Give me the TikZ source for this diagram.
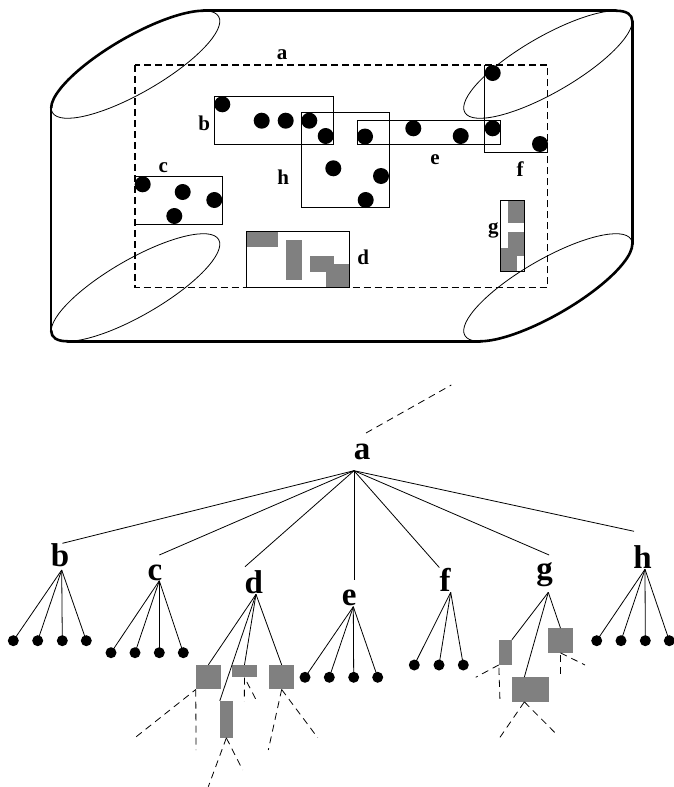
\documentclass[tikz,border=0pt]{standalone}
\usepackage{fontspec}
\setmainfont{Liberation Serif}
\usetikzlibrary{calc}
\definecolor{blockgray}{RGB}{128,128,128}
\begin{document}
\begin{tikzpicture}[x=1pt,y=-1pt,
  outer/.style={line width=2.6pt,line cap=round},
  thin ring/.style={line width=0.8pt},
  boxline/.style={line width=0.9pt},
  region/.style={line width=1.2pt,dash pattern=on 7pt off 4pt},
  blob/.style={circle,fill=black,inner sep=0pt,minimum size=16pt},
  leaf/.style={circle,fill=black,inner sep=0pt,minimum size=11pt},
  block/.style={fill=blockgray},
  cell/.style={rectangle,fill=blockgray,inner sep=0pt},
  toplabel/.style={inner sep=0pt,anchor=base,font=\fontsize{21}{21}\selectfont\bfseries},
  treelabel/.style={inner sep=0pt,anchor=base,font=\fontsize{33}{33}\selectfont\bfseries},
  edge/.style={line width=0.8pt},
  stub/.style={line width=0.8pt,dash pattern=on 7pt off 5pt}]
\useasboundingbox (0,0) rectangle (674,787);

% ---------- the space: four thin rings and the thick outline ----------
\foreach \cx/\cy in {135.5/64.5, 548/64.5, 135.5/287.5, 548/287.5}
  \draw[thin ring,shift={(\cx,\cy)},rotate=30] (0,0) ellipse[x radius=96pt,y radius=28pt];

\draw[outer,shift={(135.5,64.5)},rotate=30] (26.8:96pt and 28pt)
  arc[start angle=26.8,end angle=170.44,x radius=96pt,y radius=28pt];
\draw[outer,shift={(548,64.5)},rotate=30] (-9.56:96pt and 28pt)
  arc[start angle=-9.56,end angle=26.8,x radius=96pt,y radius=28pt];
\draw[outer,shift={(135.5,287.5)},rotate=30] (170.44:96pt and 28pt)
  arc[start angle=170.44,end angle=206.8,x radius=96pt,y radius=28pt];
\draw[outer,shift={(548,287.5)},rotate=30] (206.8:96pt and 28pt)
  arc[start angle=206.8,end angle=350.44,x radius=96pt,y radius=28pt];
\draw[outer] (203.39,10.72) -- (615.89,10.72);
\draw[outer] (632.31,21.19) -- (632.31,244.19);
\draw[outer] (480.11,341.28) -- (67.61,341.28);
\draw[outer] (51.19,330.81) -- (51.19,107.81);

% ---------- region a and its sub-regions ----------
\draw[region] (135,65) rectangle (547.7,287.3);

% gray blocks of d and g
\fill[block] (246,231.7) rectangle (277.7,247.3);
\fill[block] (285.7,240) rectangle (301.7,280);
\fill[block] (310,256) rectangle (334,271.7);
\fill[block] (326,264) rectangle (349.3,287.3);
\fill[block] (508.3,200) rectangle (524.3,223.3);
\fill[block] (508.3,231.7) rectangle (524.3,256);
\fill[block] (500.3,248.3) rectangle (516.7,271.7);

\draw[boxline] (214.3,96) rectangle (333.3,144);     % b
\draw[boxline] (301.7,112.7) rectangle (389,207.5);  % h
\draw[boxline] (357.3,120.7) rectangle (500.7,144);  % e
\draw[boxline] (547.7,152.3) -- (484.7,152.3) -- (484.7,65); % f
\draw[boxline] (135,176.7) -- (222.3,176.7) -- (222.3,224) -- (135,224); % c
\draw[boxline] (246,231.7) rectangle (349.3,287.3);  % d
\draw[boxline] (500.3,200) rectangle (524.3,271.7);  % g

% points
\foreach \px/\py [count=\i] in {222.3/104.3, 261.7/120.7, 285.7/120.7, 309.3/120.7, 325.7/136,
    333.3/168.3, 381/176, 365.7/200,
    365/136.5, 413.3/128.3, 460.7/136, 492.7/128.3,
    492.7/73, 540/144,
    142.7/184.3, 182.7/192, 214.3/200, 174.3/216}
  \node[blob] (p\i) at (\px,\py) {};

% labels of the regions
\node[toplabel] (la) at (282,59.3) {a};
\node[toplabel] (lb) at (204.3,130) {b};
\node[toplabel] (lc) at (163.3,172.7) {c};
\node[toplabel] (ld) at (363.3,264) {d};
\node[toplabel] (le) at (435,164) {e};
\node[toplabel] (lf) at (520,176.7) {f};
\node[toplabel] (lg) at (493.3,233.3) {g};
\node[toplabel] (lh) at (283.3,184.7) {h};

% ---------- the tree ----------
\node[treelabel] (ta) at (362,459.3) {a};
\node[treelabel] (tb) at (60,566.7) {b};
\node[treelabel] (tc) at (155,580.5) {c};
\node[treelabel] (td) at (253.8,593.3) {d};
\node[treelabel] (te) at (349.2,605) {e};
\node[treelabel] (tf) at (445,591.7) {f};
\node[treelabel] (tg) at (544.7,579.5) {g};
\node[treelabel] (th) at (642.5,568.3) {h};

% where the branches meet the labels
\coordinate (ra) at (354,470.7);
\coordinate (ib) at (62.4,543.3);
\coordinate (ic) at (159.3,555);
\coordinate (id) at (245,566.7);
\coordinate (ie) at (354,580);
\coordinate (if) at (439.3,567.5);
\coordinate (ig) at (549.1,555);
\coordinate (ih) at (634,531.3);
\coordinate (ob) at (61.7,570);
\coordinate (oc) at (159.3,580.7);
\coordinate (od) at (256,594.3);
\coordinate (oe) at (353.3,606.7);
\coordinate (of) at (450.7,592.3);
\coordinate (og) at (548.3,592.3);
\coordinate (oh) at (645,569.3);

% the parent of a, left open
\coordinate (up0) at (366,433);
\coordinate (up1) at (451.3,385);
\draw[stub] (up0) -- (up1);

\foreach \k in {b,c,d,e,f,g,h}
  \draw[edge] (ra) -- (i\k);

% leaves
\foreach \px [count=\i] in {13.3,37.7,62.3,86.3} {
  \draw[edge] (ob) -- (\px,640.7);
  \node[leaf] (lb\i) at (\px,640.7) {};}
\foreach \px [count=\i] in {111,135,159.3,183.3} {
  \draw[edge] (oc) -- (\px,652.7);
  \node[leaf] (lc\i) at (\px,652.7) {};}
\foreach \px [count=\i] in {305,329.3,353.7,377.7} {
  \draw[edge] (oe) -- (\px,677.3);
  \node[leaf] (le\i) at (\px,677.3) {};}
\foreach \px [count=\i] in {414.3,439,463.3} {
  \draw[edge] (of) -- (\px,665);
  \node[leaf] (lf\i) at (\px,665) {};}
\foreach \px [count=\i] in {596.7,621,645.3,669.3} {
  \draw[edge] (oh) -- (\px,640.7);
  \node[leaf] (lh\i) at (\px,640.7) {};}

% blocks under d
\node[cell,minimum width=24.7pt,minimum height=24.3pt] (d1) at (208.35,677.15) {};
\node[cell,minimum width=24.4pt,minimum height=12.3pt] (d2) at (244.5,671.15) {};
\node[cell,minimum width=24.7pt,minimum height=24.3pt] (d3) at (281.65,677.15) {};
\node[cell,minimum width=12.7pt,minimum height=36.7pt] (d4) at (226.35,719.35) {};
\draw[edge] (od) -- (d1.north);
\draw[edge] (od) -- (d2.north);
\draw[edge] (od) -- (d3.north);
\draw[edge] (od) -- (d4.north west);

% blocks under g
\node[cell,minimum width=12.7pt,minimum height=24.7pt] (g1) at (505.35,652.35) {};
\node[cell,minimum width=24.4pt,minimum height=24.4pt] (g2) at (560.5,640.5) {};
\node[cell,minimum width=36.7pt,minimum height=24.4pt] (g3) at (530.35,689.5) {};
\coordinate (g3in) at ($(g3.north)+(-6,0)$);
\coordinate (g3out) at ($(g3.south)+(-6,0)$);
\draw[edge] (og) -- (g1.north east);
\draw[edge] (og) -- (g2.north);
\draw[edge] (og) -- (g3in);

% open continuations below the blocks
\coordinate (s1) at (135,737.7);   \coordinate (s2) at (196,750);
\coordinate (s3) at (244.3,701.7); \coordinate (s4) at (255.7,699);
\coordinate (s5) at (268.3,750);   \coordinate (s6) at (317.7,737.7);
\coordinate (s7) at (208.3,786.7); \coordinate (s8) at (242.7,770);
\coordinate (s9) at (475.7,677.3); \coordinate (s10) at (500,701.7);
\coordinate (s11) at (585,665);    \coordinate (s12) at (560.5,675);
\coordinate (s13) at (500,737.3);  \coordinate (s14) at (555,732.7);
\draw[stub,dash phase=3pt] (d1.south west) -- (s1);
\draw[stub] (d1.south west) -- (s2);
\draw[stub] (d2.south) -- (s3);
\draw[stub,dash phase=7pt] (d2.south) -- (s4);
\draw[stub] (d3.south) -- (s5);
\draw[stub] (d3.south) -- (s6);
\draw[stub] (d4.south) -- (s7);
\draw[stub] (d4.south) -- (s8);
\draw[stub] (g1.south west) -- (s9);
\draw[stub,dash phase=9pt] (g1.south west) -- (s10);
\draw[stub] (g2.south) -- (s11);
\draw[stub,dash phase=10pt] (g2.south) -- (s12);
\draw[stub] (g3out) -- (s13);
\draw[stub] (g3out) -- (s14);
\end{tikzpicture}
\end{document}
